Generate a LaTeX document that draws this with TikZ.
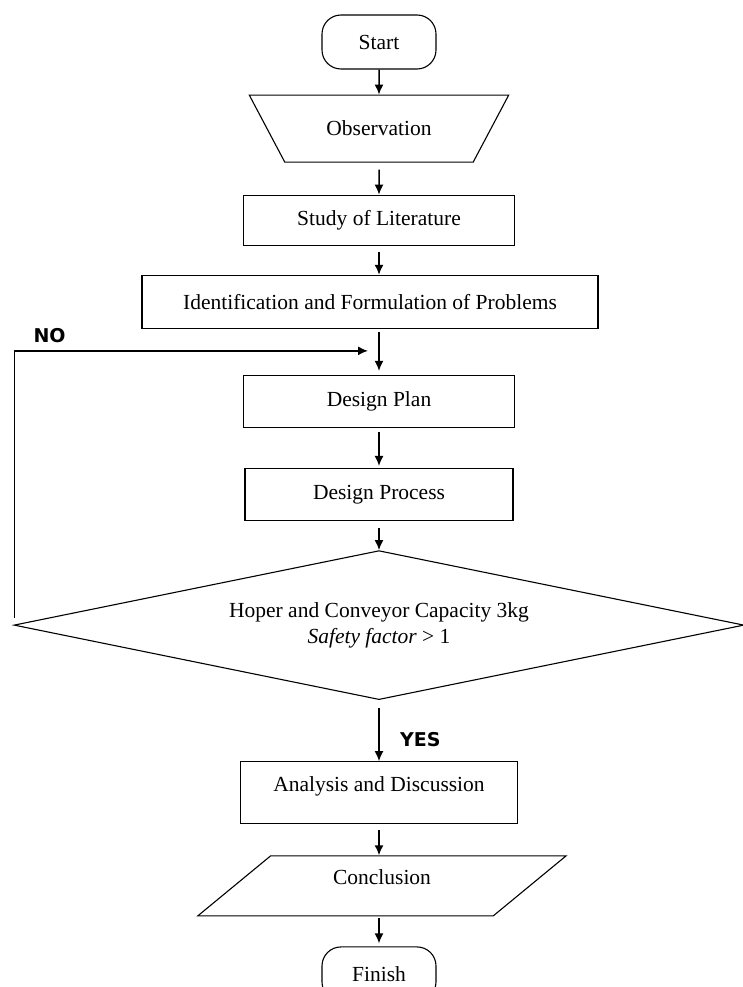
\documentclass[tikz,border=0pt]{standalone}
\usepackage{fontspec}
\setmainfont{Liberation Serif}
\newfontfamily\labelfont{DejaVu Sans}
\usetikzlibrary{arrows.meta,positioning,shapes.geometric}
\tikzset{node distance=30pt, % Default gap between two blocks
        every node/.style={font=\fontsize{21.5}{26}\selectfont},
        block/.style={ % Plain process boxes
            draw, line width=1.1pt, rectangle, align=center},
        terminal/.style={ % Start and finish
            draw, line width=1.1pt, rectangle, rounded corners=19pt,
            minimum width=114pt, minimum height=54pt},
        manual/.style={ % Observation
            draw, line width=1.1pt, trapezium, shape border rotate=180,
            trapezium angle=46, trapezium stretches=true},
        io/.style={ % Conclusion
            draw, line width=1.1pt, trapezium, trapezium left angle=48.5,
            trapezium right angle=131.5, trapezium stretches=true},
        decision/.style={ % Capacity check
            draw, line width=1.1pt, diamond, aspect=4.9, align=center},
        flow/.style={ % Sets the properties for each connector
            draw, ->, >={Latex[length=10pt,width=9pt]}, line width=1.5pt},
        answer/.style={ % YES and NO
            font=\labelfont\bfseries\fontsize{19}{22}\selectfont}
        }

\begin{document}
\begin{tikzpicture}
    \useasboundingbox (0,0) rectangle (742pt,-987pt);

    \node[terminal] (start) at (379pt,-42pt) {Start};
    \node[manual, minimum width=260pt, minimum height=67pt] (obs) [below=25pt of start] {Observation};
    \node[block, minimum width=271pt, minimum height=50pt] (study) [below=32pt of obs] {Study of Literature};
    \node[block, minimum width=456pt, minimum height=53pt] (ident) [below=29pt of study, xshift=-9pt] {Identification and Formulation of Problems};
    \node[block, minimum width=271pt, minimum height=52pt] (plan) [below=46pt of ident, xshift=9pt] {Design Plan};
    \node[block, minimum width=268pt, minimum height=52pt] (process) [below=40pt of plan] {Design Process};
    \node[decision, minimum width=730pt, minimum height=149pt] (dia) [below=29pt of process]
        {Hoper and Conveyor Capacity 3kg\\ \textit{Safety factor} > 1};
    \node[block, minimum width=277pt, minimum height=62pt, text height=15pt, text depth=17pt] (analysis) [below=61pt of dia] {Analysis and Discussion};
    \node[io, minimum width=369pt, minimum height=60pt, text height=15pt, text depth=17pt] (concl) [below=31pt of analysis, xshift=3pt] {Conclusion};
    \node[terminal] (finish) [below=30pt of concl, xshift=-3pt] {Finish};

    \coordinate (back) at ([xshift=-11pt,yshift=24pt]plan.north);

    \draw[flow] (start) -- (obs);
    \draw[flow, shorten <=7pt] (obs) -- (study);
    \draw[flow, shorten <=6pt] (study) -- (study.south |- ident.north);
    \draw[flow, shorten <=3pt, shorten >=4pt] (plan.north |- ident.south) -- (plan);
    \draw[flow, shorten <=4pt, shorten >=2pt] (plan) -- (process);
    \draw[flow, shorten <=7pt] (process) -- (dia);
    \draw[flow, shorten <=8pt] (dia) -- node[answer, right, pos=0.64, xshift=17pt] {YES} (analysis);
    \draw[flow, shorten <=6pt] (analysis) -- (analysis.south |- concl.north);
    \draw[flow, shorten <=2pt, shorten >=3pt] (finish.north |- concl.south) -- (finish);

    \draw[flow] ([xshift=1pt,yshift=7pt]dia.west) |- node[answer, above right, xshift=15pt, yshift=4pt] {NO} (back);
\end{tikzpicture}
\end{document}
